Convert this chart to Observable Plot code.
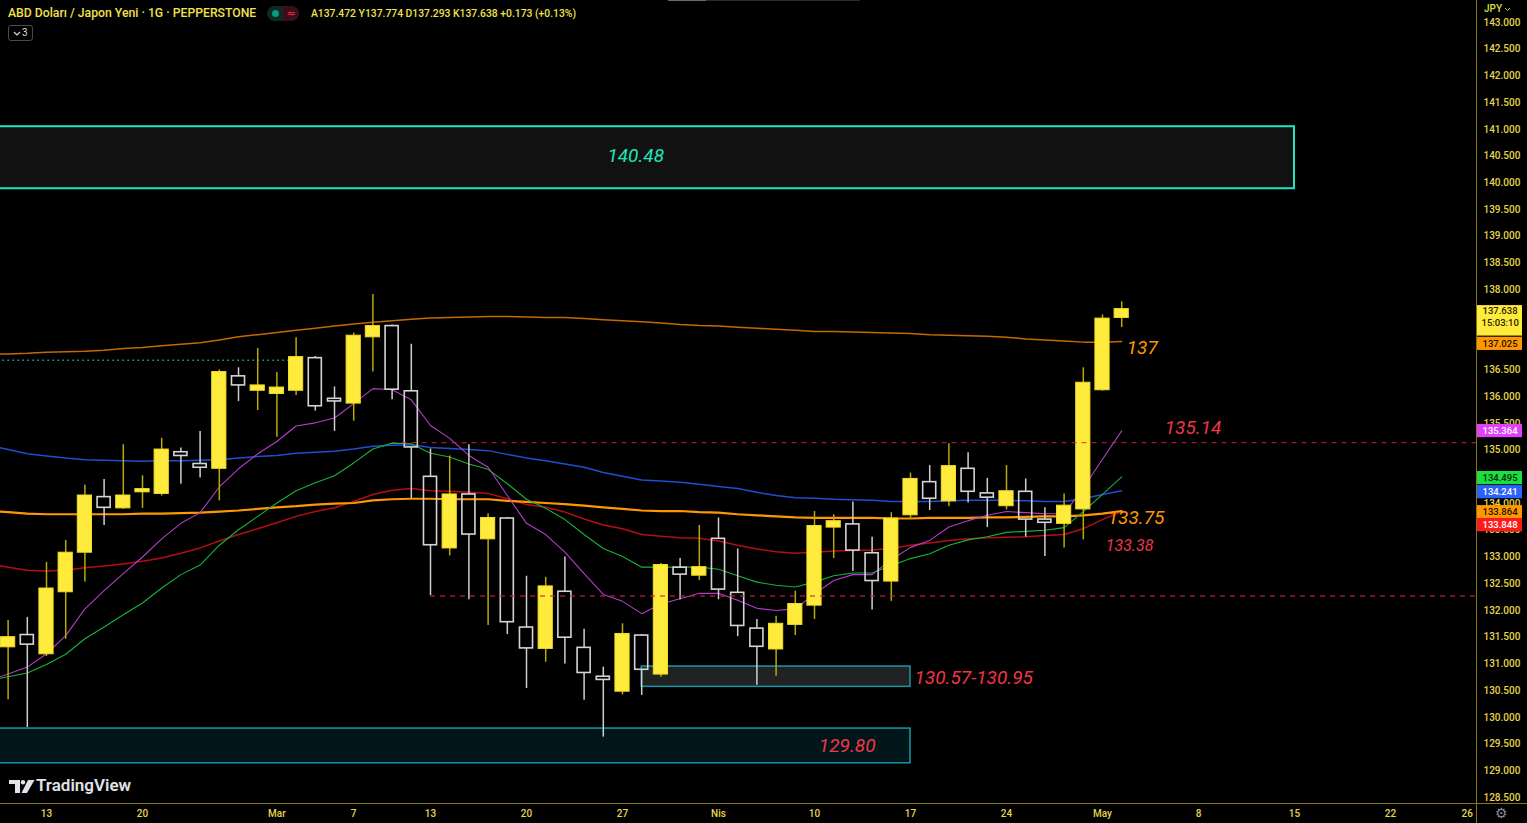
<!DOCTYPE html>
<html><head><meta charset="utf-8">
<script src="https://cdn.jsdelivr.net/npm/d3@7"></script>
<script src="https://cdn.jsdelivr.net/npm/@observablehq/plot@0.6"></script>
<style>
html,body{margin:0;padding:0;background:#000;overflow:hidden;}
#wrap{position:relative;width:1527px;height:823px;background:#000;}
#chart svg{display:block;}
.ov{position:absolute;font-family:Roboto,"Liberation Sans",sans-serif;white-space:nowrap;line-height:1;}
</style></head><body>
<div id="wrap">
<div id="chart"></div>
<div class="ov" style="left:668px;top:0;width:38px;height:1px;background:#6a6a6a"></div>
<div class="ov" style="left:706px;top:0;width:154px;height:1px;background:#2a2a2a"></div>
<div class="ov" style="left:8px;top:6px;transform-origin:0 0;transform:scaleX(0.94);font-size:13px;font-weight:500;color:#f2e14c">ABD Doları / Japon Yeni · 1G · PEPPERSTONE</div>
<div class="ov" style="left:267px;top:6px;width:32px;height:15px;border-radius:8px;overflow:hidden;display:flex">
  <div style="width:16px;height:15px;background:#0f2a24;position:relative"><div style="position:absolute;left:5px;top:4px;width:7px;height:7px;border-radius:50%;background:#089981"></div></div>
  <div style="width:16px;height:15px;background:#3a0f1a;color:#f23645;font-size:11px;text-align:center;line-height:15px;font-family:'DejaVu Sans'">≈</div>
</div>
<div class="ov" style="left:311px;top:8px;transform-origin:0 0;transform:scaleX(0.94);font-size:11px;font-weight:500;color:#f2e14c">A137.472 Y137.774 D137.293 K137.638 +0.173 (+0.13%)</div>
<div class="ov" style="left:8px;top:25px;width:23px;height:14px;border:1px solid #4a4a4a;border-radius:3px;color:#d8d8d8;font-size:10px;">
  <svg width="8" height="6" style="position:absolute;left:4px;top:5px"><polyline points="1,1 4,4 7,1" fill="none" stroke="#d8d8d8" stroke-width="1.2"/></svg>
  <span style="position:absolute;left:13px;top:2px">3</span>
</div>
<div class="ov" style="left:1484px;top:4px;font-size:10px;font-weight:600;color:#c6d33a">JPY<svg width="7" height="5" style="margin-left:2px;vertical-align:middle"><polyline points="1,1 3.5,3.5 6,1" fill="none" stroke="#c6d33a" stroke-width="1"/></svg></div>
<div class="ov" style="left:1476px;top:0;width:1px;height:823px;background:#86761a"></div>
<div class="ov" style="left:0;top:803px;width:1527px;height:1px;background:#86761a"></div>
<svg class="ov" style="left:9px;top:779px" width="26" height="15">
  <path d="M0,1 H11 V14 H6 V5 H0 Z" fill="#e1e3e8"/>
  <circle cx="14" cy="3.2" r="2.2" fill="#e1e3e8"/>
  <polygon points="19,1 25.5,1 18,14 12.5,14" fill="#e1e3e8"/>
</svg>
<div class="ov" style="left:36px;top:777px;font-size:17px;font-weight:600;color:#e1e3e8">TradingView</div>
<div class="ov" style="left:1495px;top:806px;font-size:14px;color:#8a8d96;font-family:'DejaVu Sans'">⚙</div>
</div>
<script>
// ---- data ----
const dates = ["2023-02-08","2023-02-09","2023-02-10","2023-02-13","2023-02-14","2023-02-15","2023-02-16","2023-02-17","2023-02-20","2023-02-21","2023-02-22","2023-02-23","2023-02-24","2023-02-27","2023-02-28",
"2023-03-01","2023-03-02","2023-03-03","2023-03-06","2023-03-07","2023-03-08","2023-03-09","2023-03-10","2023-03-13","2023-03-14","2023-03-15","2023-03-16","2023-03-17","2023-03-20","2023-03-21","2023-03-22","2023-03-23","2023-03-24","2023-03-27","2023-03-28","2023-03-29","2023-03-30","2023-03-31",
"2023-04-03","2023-04-04","2023-04-05","2023-04-06","2023-04-07","2023-04-10","2023-04-11","2023-04-12","2023-04-13","2023-04-14","2023-04-17","2023-04-18","2023-04-19","2023-04-20","2023-04-21","2023-04-24","2023-04-25","2023-04-26","2023-04-27","2023-04-28",
"2023-05-01","2023-05-02"];
const open  = [null,131.31,131.54,131.18,132.34,133.08,134.12,133.91,134.21,134.18,134.96,134.74,134.65,136.38,136.11,136.05,136.11,136.72,135.96,135.87,137.11,137.32,136.10,134.50,133.16,134.17,133.33,133.72,131.68,131.28,132.35,131.30,130.76,130.48,131.53,130.80,132.80,132.65,133.34,132.33,131.66,131.27,131.73,132.09,133.55,133.61,133.07,132.54,133.78,134.40,134.04,134.65,134.19,133.95,134.22,133.70,133.62,133.89,136.12,137.472];
const high  = [null,131.81,131.87,132.90,133.31,134.34,134.45,135.10,134.52,135.22,135.04,135.35,136.50,136.54,136.90,136.45,137.10,136.75,136.18,137.19,137.91,137.34,136.98,135.02,134.89,135.10,133.81,133.74,132.64,132.62,133.00,131.65,130.94,131.75,131.55,132.88,132.97,133.59,133.73,133.15,131.83,131.89,132.36,133.85,133.79,134.03,133.37,133.83,134.57,134.71,135.12,134.95,134.47,134.71,134.46,133.92,134.18,136.54,137.53,137.774];
const low   = [null,130.33,129.81,131.14,131.46,132.53,133.59,133.89,133.91,134.14,134.36,134.48,134.05,135.91,135.74,135.24,136.02,135.73,135.35,135.54,136.46,135.94,134.09,132.28,133.02,132.20,131.72,131.55,130.54,131.03,131.00,130.32,129.63,130.42,130.41,130.75,132.20,132.56,132.20,131.51,130.60,130.77,131.53,131.83,132.97,132.73,132.01,132.17,133.71,133.87,133.94,134.01,133.55,133.88,133.37,133.01,133.17,133.32,136.10,137.293];
const close = [null,131.50,131.36,132.41,133.08,134.15,133.92,134.15,134.27,135.01,134.89,134.67,136.46,136.21,136.21,136.17,136.74,135.82,135.91,137.14,137.32,136.13,135.05,133.22,134.17,133.42,133.73,131.78,131.29,132.45,131.49,130.83,130.70,131.56,130.89,132.85,132.67,132.81,132.39,131.71,131.32,131.75,132.12,133.58,133.67,133.12,132.55,133.72,134.46,134.09,134.70,134.22,134.11,134.23,133.70,133.64,133.96,136.26,137.46,137.638];

const maMagenta = [130.69,130.81,130.94,131.19,131.53,132.03,132.37,132.69,133.00,133.34,133.63,133.83,134.31,134.65,134.93,135.16,135.45,135.51,135.60,135.87,136.15,136.13,135.94,135.46,135.22,134.90,134.68,134.15,133.63,133.42,133.09,132.69,132.30,132.17,131.94,132.12,132.22,132.32,132.32,132.19,132.04,132.00,132.03,132.31,132.56,132.67,132.67,132.95,133.18,133.31,133.56,133.68,133.78,133.85,133.83,133.81,133.81,134.29,134.83,135.36];
const maGreen   = [130.69,130.76,130.83,130.99,131.18,131.47,131.69,131.92,132.14,132.42,132.67,132.85,133.22,133.51,133.76,134.01,134.24,134.39,134.52,134.76,135.02,135.13,135.12,134.94,134.87,134.74,134.64,134.37,134.08,133.91,133.70,133.42,133.16,133.01,132.81,132.81,132.81,132.81,132.77,132.65,132.53,132.47,132.44,132.53,132.65,132.70,132.70,132.84,132.97,133.06,133.22,133.32,133.38,133.46,133.48,133.50,133.55,133.85,134.17,134.50];
const maRed     = [132.87,132.81,132.75,132.74,132.75,132.80,132.83,132.87,132.92,132.98,133.07,133.17,133.30,133.42,133.53,133.64,133.76,133.85,133.92,134.04,134.17,134.25,134.28,134.24,134.23,134.21,134.19,134.09,133.98,133.93,133.84,133.71,133.60,133.53,133.42,133.39,133.36,133.35,133.30,133.22,133.15,133.10,133.07,133.09,133.11,133.12,133.13,133.16,133.22,133.26,133.31,133.34,133.36,133.37,133.38,133.40,133.42,133.53,133.70,133.85];
const maBlue    = [135.09,135.01,134.93,134.89,134.85,134.82,134.81,134.80,134.79,134.80,134.80,134.81,134.82,134.85,134.88,134.90,134.94,134.96,134.98,135.02,135.07,135.09,135.10,135.05,135.03,135.01,134.99,134.92,134.85,134.80,134.74,134.68,134.58,134.51,134.44,134.42,134.40,134.36,134.32,134.28,134.21,134.15,134.11,134.10,134.08,134.07,134.06,134.04,134.04,134.04,134.05,134.06,134.06,134.06,134.05,134.04,134.04,134.09,134.17,134.24];
const maOrange  = [133.86,133.84,133.81,133.80,133.80,133.80,133.80,133.80,133.81,133.81,133.82,133.83,133.85,133.87,133.90,133.93,133.95,133.98,134.00,134.01,134.06,134.08,134.09,134.09,134.08,134.08,134.08,134.05,134.03,134.01,133.99,133.96,133.93,133.90,133.87,133.86,133.86,133.84,133.83,133.80,133.78,133.76,133.74,133.73,133.73,133.73,133.73,133.72,133.72,133.73,133.73,133.73,133.74,133.74,133.75,133.76,133.76,133.78,133.81,133.86];
const ma200     = [136.79,136.80,136.81,136.83,136.84,136.85,136.87,136.90,136.92,136.95,136.98,137.01,137.06,137.12,137.16,137.20,137.24,137.28,137.32,137.36,137.39,137.42,137.45,137.47,137.48,137.49,137.50,137.50,137.49,137.48,137.48,137.46,137.44,137.42,137.40,137.38,137.35,137.33,137.32,137.30,137.28,137.26,137.24,137.22,137.22,137.21,137.20,137.19,137.18,137.16,137.15,137.14,137.13,137.11,137.08,137.06,137.04,137.02,137.02,137.03];

const priceTicks = [128.5,129,129.5,130,130.5,131,131.5,132,132.5,133,133.5,134,134.5,135,135.5,136,136.5,137,137.5,138,138.5,139,139.5,140,140.5,141,141.5,142,142.5,143];
const timeTickDates  = ["2023-02-13","2023-02-20","2023-03-01","2023-03-07","2023-03-13","2023-03-20","2023-03-27","2023-04-03","2023-04-10","2023-04-17","2023-04-24","2023-05-01","2023-05-08","2023-05-15","2023-05-22","2023-05-26"];
const timeTickLabels = ["13","20","Mar","7","13","20","27","Nis","10","17","24","May","8","15","22","26"];

const zoneLabels = ["140.48","130.57-130.95","129.80"];
const zoneLow    = [139.89,130.57,129.14];
const zoneHigh   = [141.05,130.95,129.79];
const zoneStart  = ["2023-02-01","2023-03-28","2023-02-01"];
const zoneEnd    = ["2023-05-15","2023-04-17","2023-04-17"];

const levelValues = [135.14,132.27];
const levelStart  = ["2023-03-09","2023-03-13"];
const dottedValue = 136.68, dottedStart = "2023-02-01", dottedEnd = "2023-03-02";

const noteOrange = ["137","133.75"];
const noteRed = ["135.14","133.38"];

const badgeValues = [137.025,135.364,134.495,134.241,133.864,133.848];
const lastPrice = 137.638, countdown = "15:03:10";

// ---- helpers ----
const allDays = d3.utcDays(new Date("2023-01-30"), new Date("2023-06-01")).filter(d => d.getUTCDay() % 6 !== 0);
const base = allDays.findIndex(d => +d === +new Date("2023-02-13"));
const dayIndex = s => allDays.findIndex(d => +d === +new Date(s)) - base;

const xDomain = [-2.396, 74.479];
const yDomain = [128.388, 143.4116];
const plotW = 1476, plotH = 803;
const ppx = (yDomain[1]-yDomain[0]) / plotH;   // price per pixel
const ipx = (xDomain[1]-xDomain[0]) / plotW;   // index per pixel

const candles = dates.map((d,k) => ({i: dayIndex(d), o: open[k], h: high[k], l: low[k], c: close[k]})).filter(d => d.o != null);
const up = candles.filter(d => d.c >= d.o), down = candles.filter(d => d.c < d.o);
const wicks = candles.flatMap(d => [
  {i: d.i, a: d.h, b: Math.max(d.o,d.c), up: d.c >= d.o},
  {i: d.i, a: Math.min(d.o,d.c), b: d.l, up: d.c >= d.o}]);
const ser = vals => dates.map((d,k) => ({i: dayIndex(d), v: vals[k]}));
const half = 0.37;

const lastI = dayIndex("2023-05-02"), apr17 = dayIndex("2023-04-17"), mar28 = dayIndex("2023-03-28");
const zone = k => ({x1: dayIndex(zoneStart[k]), x2: dayIndex(zoneEnd[k]), lo: zoneLow[k], hi: zoneHigh[k]});

const badgeBg = ["#ff9800","#e040fb","#19e03f","#2962ff","#ff9800","#ff1a1a"];
const badgeFg = ["#1a1200","#ffffff","#062b0c","#ffffff","#1a1200","#ffffff"];
const badgeShift = [2,0.4,1,1.5,1.4,13.5];
const bx1 = xDomain[1] + 1*ipx, bx2 = xDomain[1] + 46*ipx;
const badges = badgeValues.map((v,k) => ({v, c: v - badgeShift[k]*ppx, bg: badgeBg[k], fg: badgeFg[k], t: v.toFixed(3)}));
// price-axis boxes in price units (top/bottom) used to hide ticks fully covered by a badge
const covers = badges.map(b => [b.c - 6.6*ppx, b.c + 6.6*ppx]).concat([[lastPrice - 27*ppx, lastPrice + 3.5*ppx]]);
const shownTicks = priceTicks.filter(t => !covers.some(([lo,hi]) => t > lo + 4*ppx && t < hi - 4*ppx));

const axisColor = "#e6d64a";
const font = "Roboto, 'Liberation Sans', sans-serif";

const marks = [];
[0,1,2].forEach(k => {
  const z = zone(k);
  const st = [{fill:"#111111", stroke:"#1ee6bd", sw:2},{fill:"#222222", stroke:"#1798a6", sw:1.5},{fill:"#00161b", stroke:"#1798a6", sw:1.5}][k];
  marks.push(Plot.rect([z], {x1:"x1", x2:"x2", y1:"lo", y2:"hi", fill: st.fill, stroke: st.stroke, strokeWidth: st.sw, clip: true}));
});
marks.push(Plot.ruleY([dottedValue], {x1: dayIndex(dottedStart), x2: dayIndex(dottedEnd) - 0.15, stroke: "#22ab94", strokeWidth: 1.5, strokeDasharray: "1.5,3.5", clip: true}));
marks.push(Plot.line(ser(ma200),    {x:"i", y:"v", stroke:"#c46a00", strokeWidth:1.5, clip:true}));
marks.push(Plot.line(ser(maBlue),   {x:"i", y:"v", stroke:"#1f4fd0", strokeWidth:1.5, clip:true}));
marks.push(Plot.line(ser(maRed),    {x:"i", y:"v", stroke:"#b30f12", strokeWidth:1.5, clip:true}));
marks.push(Plot.line(ser(maOrange), {x:"i", y:"v", stroke:"#ff9800", strokeWidth:2.2, clip:true}));
marks.push(Plot.line(ser(maGreen),  {x:"i", y:"v", stroke:"#17b23a", strokeWidth:1.1, clip:true}));
marks.push(Plot.line(ser(maMagenta),{x:"i", y:"v", stroke:"#b53ccc", strokeWidth:1.1, clip:true}));
marks.push(Plot.ruleX(wicks.filter(w => w.up), {x:"i", y1:"a", y2:"b", stroke:"#b9a90c", strokeWidth:1.5, clip:true}));
marks.push(Plot.ruleX(wicks.filter(w => !w.up), {x:"i", y1:"a", y2:"b", stroke:"#cfcfcf", strokeWidth:1.5, clip:true}));
marks.push(Plot.rect(up, {x1: d => d.i - half, x2: d => d.i + half, y1:"o", y2:"c", fill:"#ffeb3b", stroke:"#f2dc28", strokeWidth:1, clip:true}));
marks.push(Plot.rect(down, {x1: d => d.i - half + 0.03, x2: d => d.i + half - 0.03, y1:"o", y2:"c", fill:"none", stroke:"#d4d4d4", strokeWidth:1.6, clip:true}));
levelValues.forEach((v,k) => marks.push(Plot.ruleY([v], {x1: dayIndex(levelStart[k]), x2: xDomain[1], stroke:"#d2273c", strokeOpacity:0.75, strokeWidth:1.3, strokeDasharray:"5,5", clip:true})));
const it = {fontStyle:"italic", fontFamily: font, fontSize: 19};
marks.push(Plot.text([zoneLabels[0]], {...it, x: mar28, y: (zoneLow[0]+zoneHigh[0])/2, dx:-6, dy:-2, text: d => d, fill:"#1ee6bd"}));
marks.push(Plot.text([zoneLabels[1]], {...it, x: apr17, y: (zoneLow[1]+zoneHigh[1])/2, dx:4, dy:1, text: d => d, fill:"#f23645", textAnchor:"start"}));
marks.push(Plot.text([zoneLabels[2]], {...it, x: apr17, y: (zoneLow[2]+zoneHigh[2])/2, dx:-35, dy:0, text: d => d, fill:"#f23645", textAnchor:"end"}));
marks.push(Plot.text([noteOrange[0]], {...it, x: lastI, y: 137.0, dx:5, dy:5, text: d => d, fill:"#ff9800", textAnchor:"start"}));
marks.push(Plot.text([noteOrange[1]], {...it, x: lastI, y: 133.75, dx:-14, dy:1, text: d => d, fill:"#ff9800", textAnchor:"start"}));
marks.push(Plot.text([noteRed[0]], {...it, x: lastI, y: 135.14, dx:43, dy:-15, text: d => d, fill:"#f23645", textAnchor:"start"}));
marks.push(Plot.text([noteRed[1]], {...it, fontSize:16, x: lastI, y: 133.38, dx:-16, dy:9, text: d => d, fill:"#f23645", textAnchor:"start"}));
marks.push(Plot.axisY({anchor:"right", ticks: shownTicks, tickFormat: d => d.toFixed(3), tickSize:0, tickPadding:7, fontSize:10, fontWeight:500, fontFamily: font, color: axisColor, label:null}));
const tickMap = new Map(timeTickDates.map((d,k) => [dayIndex(d), timeTickLabels[k]]));
marks.push(Plot.axisX({anchor:"bottom", ticks: timeTickDates.map(dayIndex), tickFormat: d => tickMap.get(d), tickSize:0, tickPadding:6, fontSize:10, fontWeight:500, fontFamily: font, color: axisColor, label:null}));
marks.push(Plot.rect(badges, {x1: bx1, x2: bx2, y1: d => d.c - 6.6*ppx, y2: d => d.c + 6.6*ppx, fill: d => d.bg}));
marks.push(Plot.text(badges, {x: bx1, y: "c", dx: 5, text: "t", fill: d => d.fg, textAnchor:"start", fontSize:9.5, fontWeight:500, fontFamily: font}));
marks.push(Plot.rect([lastPrice], {x1: bx1, x2: bx2, y1: d => d + 3.5*ppx, y2: d => d - 27*ppx, fill:"#ffeb3b"}));
marks.push(Plot.text([lastPrice.toFixed(3)], {x: bx1, y: lastPrice, dx:5, dy:2, text: d => d, fill:"#2a2200", textAnchor:"start", fontSize:9.5, fontWeight:500, fontFamily: font}));
marks.push(Plot.text([countdown], {x: bx1, y: lastPrice, dx:4, dy:13.5, text: d => d, fill:"#2a2200", textAnchor:"start", fontSize:9.5, fontWeight:500, fontFamily: font}));

const chart = Plot.plot({
  width: 1527, height: 823,
  marginLeft: 0, marginRight: 51, marginTop: 0, marginBottom: 20,
  style: {background: "#000", color: axisColor, fontFamily: font, overflow: "visible"},
  x: {type: "linear", domain: xDomain, axis: null},
  y: {type: "linear", domain: yDomain, axis: null},
  color: {type: "identity"},
  marks
});
document.getElementById("chart").appendChild(chart);
</script>
</body></html>
